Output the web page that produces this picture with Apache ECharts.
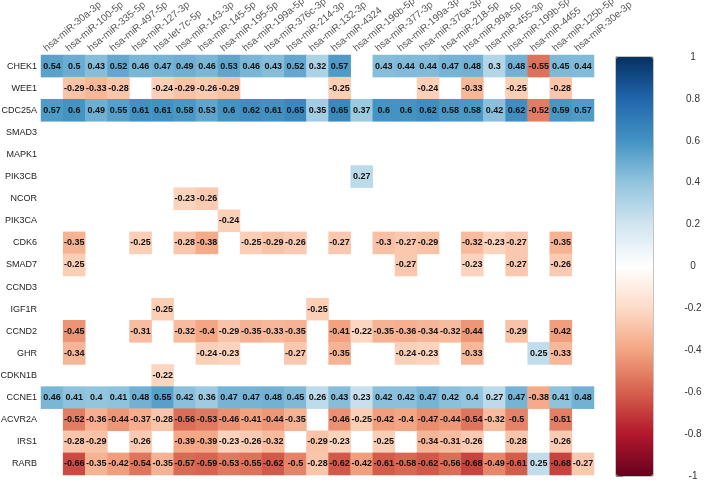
<!DOCTYPE html>
<html>
<head>
<meta charset="utf-8">
<title>miRNA gene correlation</title>
<script src="https://cdn.jsdelivr.net/npm/echarts@6/dist/echarts.min.js"></script>
<style>
    html,body{margin:0;padding:0;background:#fff;}
    #main{width:709px;height:481px;}
</style>
</head>
<body>
<div id="main"></div>
<script>
var mirnas = ['hsa-miR-30a-3p','hsa-miR-100-5p','hsa-miR-335-5p','hsa-miR-497-5p','hsa-miR-127-3p',
    'hsa-let-7c-5p','hsa-miR-143-3p','hsa-miR-145-5p','hsa-miR-195-5p','hsa-miR-199a-5p',
    'hsa-miR-376c-3p','hsa-miR-214-3p','hsa-miR-132-3p','hsa-miR-4324','hsa-miR-196b-5p',
    'hsa-miR-377-3p','hsa-miR-199a-3p','hsa-miR-376a-3p','hsa-miR-218-5p','hsa-miR-99a-5p',
    'hsa-miR-455-3p','hsa-miR-199b-5p','hsa-miR-4455','hsa-miR-125b-5p','hsa-miR-30e-3p'];
var genes = ['CHEK1','WEE1','CDC25A','SMAD3','MAPK1','PIK3CB','NCOR','PIK3CA','CDK6','SMAD7',
    'CCND3','IGF1R','CCND2','GHR','CDKN1B','CCNE1','ACVR2A','IRS1','RARB'];
var colorTicks = [-1,-0.8,-0.6,-0.4,-0.2,0,0.2,0.4,0.6,0.8,1];

// 每行一个基因, null = 不显著
var _ = null;
var CHEK1  = [0.54,0.5,0.43,0.52,0.46,0.47,0.49,0.46,0.53,0.46,0.43,0.52,0.32,0.57,_,0.43,0.44,0.44,0.47,0.48,0.3,0.48,-0.55,0.45,0.44];
var WEE1   = [_,-0.29,-0.33,-0.28,_,-0.24,-0.29,-0.26,-0.29,_,_,_,_,-0.25,_,_,_,-0.24,_,-0.33,_,-0.25,_,-0.28,_];
var CDC25A = [0.57,0.6,0.49,0.55,0.61,0.61,0.58,0.53,0.6,0.62,0.61,0.65,0.35,0.65,0.37,0.6,0.6,0.62,0.58,0.58,0.42,0.62,-0.52,0.59,0.57];
var SMAD3  = [_,_,_,_,_,_,_,_,_,_,_,_,_,_,_,_,_,_,_,_,_,_,_,_,_];
var MAPK1  = [_,_,_,_,_,_,_,_,_,_,_,_,_,_,_,_,_,_,_,_,_,_,_,_,_];
var PIK3CB = [_,_,_,_,_,_,_,_,_,_,_,_,_,_,0.27,_,_,_,_,_,_,_,_,_,_];
var NCOR   = [_,_,_,_,_,_,-0.23,-0.26,_,_,_,_,_,_,_,_,_,_,_,_,_,_,_,_,_];
var PIK3CA = [_,_,_,_,_,_,_,_,-0.24,_,_,_,_,_,_,_,_,_,_,_,_,_,_,_,_];
var CDK6   = [_,-0.35,_,_,-0.25,_,-0.28,-0.38,_,-0.25,-0.29,-0.26,_,-0.27,_,-0.3,-0.27,-0.29,_,-0.32,-0.23,-0.27,_,-0.35,_];
var SMAD7  = [_,-0.25,_,_,_,_,_,_,_,_,_,_,_,_,_,_,-0.27,_,_,-0.23,_,-0.27,_,-0.26,_];
var CCND3  = [_,_,_,_,_,_,_,_,_,_,_,_,_,_,_,_,_,_,_,_,_,_,_,_,_];
var IGF1R  = [_,_,_,_,_,-0.25,_,_,_,_,_,_,-0.25,_,_,_,_,_,_,_,_,_,_,_,_];
var CCND2  = [_,-0.45,_,_,-0.31,_,-0.32,-0.4,-0.29,-0.35,-0.33,-0.35,_,-0.41,-0.22,-0.35,-0.36,-0.34,-0.32,-0.44,_,-0.29,_,-0.42,_];
var GHR    = [_,-0.34,_,_,_,_,_,-0.24,-0.23,_,_,-0.27,_,-0.35,_,_,-0.24,-0.23,_,-0.33,_,_,0.25,-0.33,_];
var CDKN1B = [_,_,_,_,_,-0.22,_,_,_,_,_,_,_,_,_,_,_,_,_,_,_,_,_,_,_];
var CCNE1  = [0.46,0.41,0.4,0.41,0.48,0.55,0.42,0.36,0.47,0.47,0.48,0.45,0.26,0.43,0.23,0.42,0.42,0.47,0.42,0.4,0.27,0.47,-0.38,0.41,0.48];
var ACVR2A = [_,-0.52,-0.36,-0.44,-0.37,-0.28,-0.56,-0.53,-0.46,-0.41,-0.44,-0.35,_,-0.46,-0.25,-0.42,-0.4,-0.47,-0.44,-0.54,-0.32,-0.5,_,-0.51,_];
var IRS1   = [_,-0.28,-0.29,_,-0.26,_,-0.39,-0.39,-0.23,-0.26,-0.32,_,-0.29,-0.23,_,-0.25,_,-0.34,-0.31,-0.26,_,-0.28,_,-0.26,_];
var RARB   = [_,-0.66,-0.35,-0.42,-0.54,-0.35,-0.57,-0.59,-0.53,-0.55,-0.62,-0.5,-0.28,-0.62,-0.42,-0.61,-0.58,-0.62,-0.56,-0.68,-0.49,-0.61,0.25,-0.68,-0.27];

var rows = [CHEK1,WEE1,CDC25A,SMAD3,MAPK1,PIK3CB,NCOR,PIK3CA,CDK6,SMAD7,CCND3,IGF1R,CCND2,GHR,CDKN1B,CCNE1,ACVR2A,IRS1,RARB];

var cells = [];
for(var i=0;i<rows.length;i++){
    for(var j=0;j<rows[i].length;j++){
        if(rows[i][j]!==null) cells.push([j,i,rows[i][j]]);
    }
}

var myChart = echarts.init(document.getElementById('main'));
var font = 'Liberation Sans, Arial, sans-serif';

option = {
    animation: false,
    textStyle: {fontFamily: font},
    grid: [
        {left: 41, top: 55, width: 553, height: 420, outerBoundsMode: 'none', containLabel: false},
        //色条的坐标轴
        {left: 616, top: 57, width: 37, height: 419, outerBoundsMode: 'none', show: true, borderColor: '#888', borderWidth: 1}
    ],
    xAxis: [
        {
            type: 'category',
            data: mirnas,
            position: 'top',
            axisLine: {show: false},
            axisTick: {show: false},
            splitLine: {show: false},
            axisLabel: {
                interval: 0, rotate: -40, align: 'left', verticalAlign: 'bottom',
                padding: [0, 0, 6, 0],
                fontSize: 10, color: '#555', margin: -3, fontFamily: font
            }
        },
        {type: 'value', gridIndex: 1, show: false, min: 0, max: 1}
    ],
    yAxis: [
        {
            type: 'category',
            data: genes,
            inverse: true,
            axisLine: {show: false},
            axisTick: {show: false},
            splitLine: {show: false},
            axisLabel: {fontSize: 9, color: '#222', margin: 4, fontFamily: font}
        },
        {
            type: 'value',
            gridIndex: 1,
            position: 'right',
            min: colorTicks[0],
            max: colorTicks[colorTicks.length-1],
            interval: 0.2,
            axisLine: {show: true, lineStyle: {color: '#888'}},
            axisTick: {show: true, length: 7, lineStyle: {color: '#888'}},
            splitLine: {show: false},
            axisLabel: {
                fontSize: 10, color: '#333', margin: 40, align: 'center', fontFamily: font,
                formatter: function(v){ return String(Math.round(v*10)/10); }
            }
        }
    ],
    visualMap: {
        type: 'continuous',
        min: -1,
        max: 1,
        dimension: 2,
        seriesIndex: 0,
        calculable: false,
        hoverLink: false,
        left: 616,
        top: 57,
        padding: 0,
        itemWidth: 37,
        itemHeight: 419,
        text: null,
        inRange: {
            color: ['#67001F','#B2182B','#D6604D','#F4A582','#FDDBC7','#FFFFFF','#D1E5F0','#92C5DE','#4393C3','#2166AC','#053061']
        }
    },
    series: [{
        type: 'heatmap',
        data: cells,
        label: {
            show: true,
            fontSize: 9,
            fontWeight: 'bold',
            color: '#111',
            fontFamily: font,
            formatter: function(p){ return String(p.value[2]); }
        },
        itemStyle: {borderWidth: 0}
    }]
};
myChart.setOption(option, true);
</script>
</body>
</html>
